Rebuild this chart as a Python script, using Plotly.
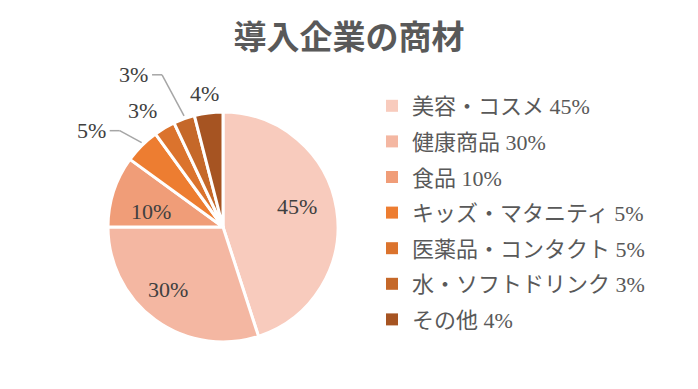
import math
import plotly.graph_objects as go

title = "導入企業の商材"
categories = ["美容・コスメ 45%", "健康商品 30%", "食品 10%", "キッズ・マタニティ 5%",
              "医薬品・コンタクト 5%", "水・ソフトドリンク 3%", "その他 4%"]
values = [45, 30, 10, 5, 3, 3, 4]
colors = ["#F8CBBD", "#F4B7A2", "#F09D78", "#ED7D31", "#DB732D", "#C56829", "#A65422"]

W, H = 698, 389
OFF = 8  # page body margin
cx, cy, R = 223 - OFF, 227 - OFF, 115

fig = go.Figure()
fig.add_trace(go.Pie(
    labels=categories, values=values, sort=False, direction="clockwise", rotation=0,
    marker=dict(colors=colors, line=dict(color="white", width=3)),
    textinfo="none", showlegend=False, hoverinfo="label+percent",
    domain=dict(x=[(cx - R) / W, (cx + R) / W], y=[(H - cy - R) / H, (H - cy + R) / H]),
))

# data labels placed at each slice's mid-angle (computed from the values)
total = sum(values)
label_font = dict(family="Liberation Serif, Noto Sans CJK JP", size=22, color="#404040")
style = [
    dict(r=0.67, nx=-2, ny=-8, line=False),
    dict(r=0.73, nx=-6, ny=-5, line=False),
    dict(r=0.66, nx=0, ny=8, line=False),
    dict(line=True, dx=-38, dy=-15),
    dict(r=1.22, nx=-9, ny=4, line=False),
    dict(line=True, dx=-38, dy=-44),
    dict(r=1.18, nx=-1, ny=1, line=False),
]
cum = 0
for v, st in zip(values, style):
    mid = (cum + v / 2) / total * 2 * math.pi
    cum += v
    s, c = math.sin(mid), math.cos(mid)
    if st["line"]:
        px, py = cx + R * s, cy - R * c
        tx, ty = px + st["dx"], py + st["dy"]
        ex = tx + 12
        fig.add_shape(type="line", x0=px, y0=py - 3, x1=ex + 4, y1=ty, xref="x", yref="y",
                      line=dict(color="#A6A6A6", width=1.5))
        fig.add_shape(type="line", x0=ex + 4, y0=ty, x1=ex - 6, y1=ty, xref="x", yref="y",
                      line=dict(color="#A6A6A6", width=1.5))
        fig.add_annotation(x=ex - 8, y=ty, text=f"{v}%", showarrow=False, xanchor="right",
                           xref="x", yref="y", font=label_font)
    else:
        r = R * st["r"]
        fig.add_annotation(x=cx + r * s + st["nx"], y=cy - r * c + st["ny"], text=f"{v}%",
                           showarrow=False, xref="x", yref="y", font=label_font)

# legend entries
for name, col in zip(categories, colors):
    fig.add_trace(go.Scatter(
        x=[None], y=[None], mode="markers", name=name, legendgroup=name,
        marker=dict(symbol="square", size=9, color=col),
    ))

fig.update_layout(
    width=W, height=H, margin=dict(l=0, r=0, t=0, b=0),
    paper_bgcolor="white", plot_bgcolor="rgba(0,0,0,0)",
    title=dict(text="<b>" + title + "</b>", x=(349 - OFF) / W, xanchor="center",
               y=1 - (37 - OFF) / H, yanchor="middle",
               font=dict(family="Noto Sans CJK JP", size=33, color="#595959")),
    xaxis=dict(range=[0, W], visible=False, fixedrange=True),
    yaxis=dict(range=[H, 0], visible=False, fixedrange=True),
    legend=dict(x=(372 - OFF) / W, y=1 - (85 - OFF) / H, xanchor="left", yanchor="top",
                font=dict(family="Liberation Serif, Noto Sans CJK JP", size=22, color="#595959"),
                tracegroupgap=4, itemsizing="constant", bgcolor="rgba(0,0,0,0)"),
    showlegend=True,
)

fig.write_html("out.html")
